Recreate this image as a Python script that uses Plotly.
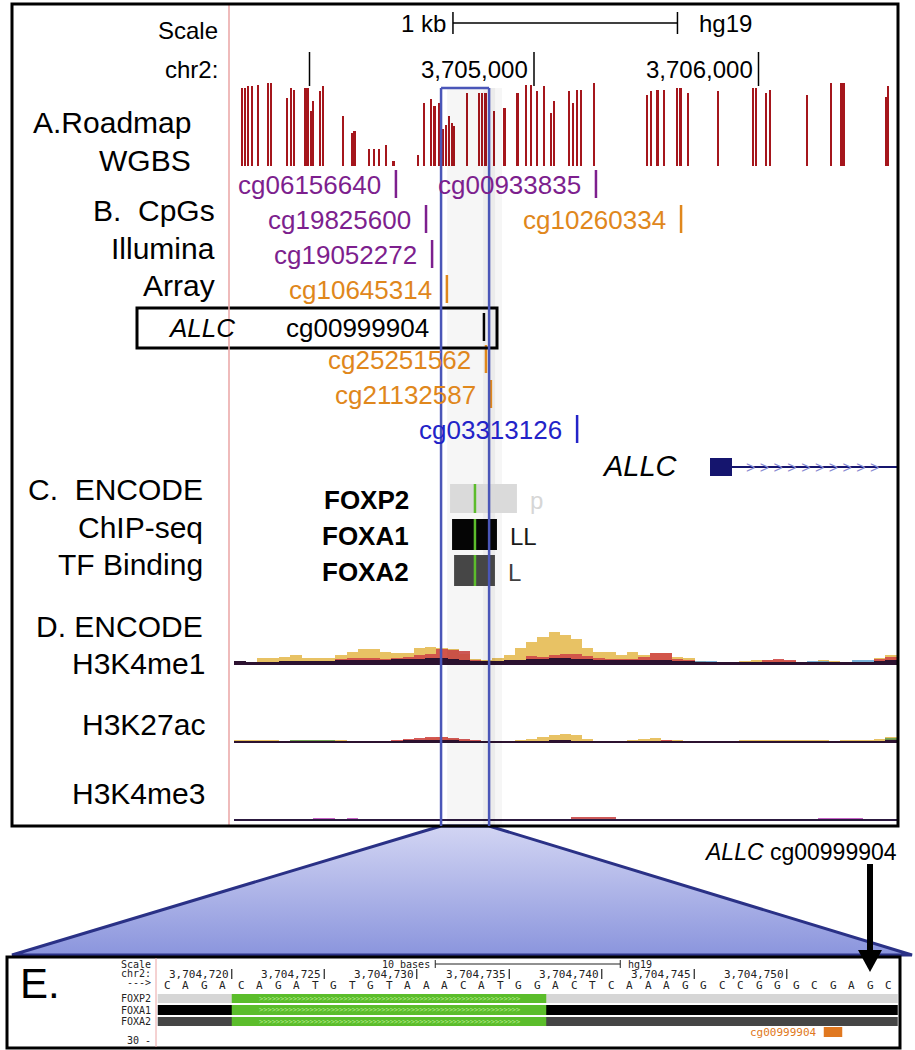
import plotly.graph_objects as go

# ======================= DATA =======================
# Panel A: Roadmap WGBS CpG sites (hg19 chr2) and methylation fraction
wgbs_pos = [3703698, 3703712, 3703727, 3703743, 3703770, 3703814, 3703828,
            3703901, 3703917, 3703930, 3703982, 3703994, 3704007, 3704017,
            3704046, 3704059, 3704148, 3704190, 3704200, 3704264, 3704287,
            3704310, 3704341, 3704374, 3704484, 3704509, 3704541, 3704557,
            3704576, 3704596, 3704609, 3704620, 3704634, 3704645, 3704702,
            3704754, 3704769, 3704784, 3704798, 3704821, 3704869, 3704927,
            3704966, 3704985, 3705014, 3705043, 3705077, 3705089, 3705155,
            3705174, 3705193, 3705209, 3705267, 3705502, 3705521, 3705550,
            3705579, 3705637, 3705649, 3705656, 3705685, 3705820, 3705975,
            3705988, 3706033, 3706052, 3706216, 3706322, 3706370, 3706381,
            3706567, 3706578]
wgbs_meth = [0.94, 0.94, 0.96, 0.96, 0.97, 1.0, 1.0,
             0.82, 0.94, 0.92, 0.94, 0.94, 0.66, 0.78,
             0.9, 0.96, 0.6, 0.4, 0.42, 0.21, 0.21,
             0.21, 0.25, 0.06, 0.13, 0.76, 0.81, 0.72,
             0.76, 0.44, 0.5, 0.6, 0.52, 0.48, 0.88,
             0.88, 0.88, 0.88, 0.88, 0.66, 0.7, 0.88,
             0.97, 0.98, 0.9, 0.96, 0.64, 0.78, 0.9,
             0.76, 0.92, 0.92, 1.0, 0.86, 0.9, 0.91,
             0.91, 0.94, 0.94, 0.94, 0.88, 0.9, 0.94,
             0.94, 0.88, 0.92, 0.85, 1.0, 1.0, 1.0,
             0.83, 0.96]

# Panel B: Illumina array CpG probes
cpg_names = ["cg06156640", "cg00933835", "cg19825600", "cg10260334", "cg19052272",
             "cg10645314", "cg00999904", "cg25251562", "cg21132587", "cg03313126"]
cpg_pos = [3704385, 3705276, 3704519, 3705655, 3704546,
           3704612, 3704777, 3704786, 3704808, 3705192]
cpg_class = ["purple", "purple", "purple", "orange", "purple",
             "orange", "target", "orange", "orange", "blue"]
cpg_row = [0, 0, 1, 1, 2, 3, 4, 5, 6, 7]

# Gene
gene_name = "ALLC"
gene_exon = [3705784, 3705882]
gene_end = 3706617

# Panel C: ENCODE TF ChIP-seq clusters
tf_names = ["FOXP2", "FOXA1", "FOXA2"]
tf_start = [3704626, 3704635, 3704644]
tf_end = [3704924, 3704835, 3704826]
tf_cells = ["p", "LL", "L"]
motif_center = 3704737

# Highlighted region
highlight = [3704586, 3704800]

# Chromosome ruler
ruler_ticks = [3704000, 3705000, 3706000]
ruler_labels = ["", "3,705,000", "3,706,000"]
scalebar = [3704639, 3705639]

# Panel D: ENCODE layered histone signal, 50 bp bins
BIN_START, BIN = 3703665, 50
h3k4me1_yellow = [4, 3, 7, 7, 8, 10, 7, 7, 7, 10, 13, 16, 16, 13, 12, 12, 17, 18, 17, 16,
                  11, 6, 5, 7, 10, 17, 23, 28, 33, 30, 26, 17, 13, 13, 10, 13, 10, 12, 12, 8,
                  7, 4, 3, 1, 3, 4, 5, 5, 5, 4, 3, 3, 5, 4, 3, 2, 3, 7, 10]
h3k4me1_red = [2, 2, 3, 3, 3, 4, 3, 3, 4, 6, 7, 7, 7, 6, 7, 8, 10, 11, 16, 15,
               14, 5, 4, 4, 4, 5, 9, 8, 10, 11, 11, 9, 7, 6, 6, 6, 8, 12, 12, 6,
               5, 3, 2, 1, 2, 3, 3, 5, 6, 5, 3, 2, 3, 2, 2, 2, 3, 6, 8]
h3k4me1_dark = [4, 3, 3, 3, 4, 4, 4, 4, 4, 5, 5, 5, 5, 5, 6, 6, 6, 7, 7, 6,
                5, 4, 4, 4, 5, 5, 6, 6, 7, 7, 6, 6, 5, 5, 5, 5, 5, 5, 5, 4,
                4, 3, 3, 3, 3, 3, 3, 3, 3, 3, 3, 3, 3, 3, 3, 3, 3, 4, 5]
h3k4me1_teal = [0, 0, 0, 0, 0, 0, 0, 0, 0, 0, 0, 0, 0, 0, 0, 0, 0, 0, 0, 0,
                0, 0, 0, 0, 0, 0, 0, 0, 0, 0, 0, 0, 0, 0, 0, 0, 0, 0, 0, 0,
                0, 4, 4, 0, 0, 0, 0, 0, 0, 0, 0, 4, 4, 3, 0, 5, 5, 0, 0]
h3k27ac_yellow = [3, 3, 3, 3, 2, 3, 3, 3, 3, 3, 2, 1, 1, 1, 1, 2, 3, 5, 6, 4,
                  3, 2, 1, 2, 1, 3, 4, 6, 8, 9, 8, 4, 2, 2, 2, 3, 4, 5, 3, 3,
                  1, 1, 1, 1, 1, 3, 3, 3, 3, 3, 3, 3, 3, 2, 3, 3, 3, 4, 6]
h3k27ac_red = [1, 1, 1, 1, 1, 1, 1, 1, 1, 1, 1, 1, 1, 2, 3, 4, 5, 6, 6, 5,
               4, 3, 1, 1, 1, 1, 1, 2, 2, 2, 2, 1, 1, 1, 1, 1, 2, 2, 3, 2,
               1, 1, 1, 1, 1, 1, 1, 1, 2, 2, 2, 2, 2, 1, 1, 1, 1, 2, 4]
h3k27ac_dark = [2, 2, 2, 2, 2, 2, 2, 2, 2, 2, 2, 2, 2, 2, 2, 3, 3, 3, 3, 3,
                2, 2, 2, 2, 2, 2, 2, 2, 3, 3, 2, 2, 2, 2, 2, 2, 2, 2, 2, 2,
                2, 2, 2, 2, 2, 2, 2, 2, 2, 2, 2, 2, 2, 2, 2, 2, 2, 2, 3]
h3k27ac_green = [0, 0, 0, 0, 0, 3, 3, 3, 3, 0, 0, 0, 0, 0, 0, 0, 0, 0, 0, 0,
                 0, 0, 0, 0, 0, 0, 0, 0, 0, 0, 0, 0, 0, 0, 0, 0, 0, 0, 0, 0,
                 0, 0, 0, 0, 0, 0, 0, 0, 0, 0, 0, 0, 0, 0, 0, 0, 0, 0, 5]
h3k4me3_dark = [2, 2, 2, 2, 2, 2, 2, 2, 2, 2, 2, 2, 2, 2, 2, 2, 2, 2, 2, 2,
                2, 2, 2, 2, 2, 2, 2, 2, 2, 2, 2, 2, 2, 2, 2, 2, 2, 2, 2, 2,
                2, 2, 2, 2, 2, 2, 2, 2, 2, 2, 2, 2, 2, 2, 2, 2, 2, 2, 2]
h3k4me3_magenta = [0, 0, 0, 0, 0, 0, 0, 3, 3, 0, 3, 0, 0, 0, 2, 0, 0, 0, 0, 0,
                   0, 0, 0, 0, 0, 0, 0, 0, 0, 0, 0, 0, 0, 0, 0, 0, 0, 0, 0, 0,
                   0, 0, 0, 0, 0, 0, 0, 0, 0, 0, 0, 0, 3, 3, 3, 3, 2, 0, 0]
h3k4me3_red = [0, 0, 0, 0, 0, 0, 0, 0, 0, 0, 0, 1, 0, 0, 0, 0, 0, 0, 1, 0,
               0, 0, 0, 0, 0, 0, 0, 0, 0, 0, 4, 4, 4, 4, 0, 0, 0, 0, 0, 0,
               0, 0, 0, 0, 0, 0, 0, 0, 0, 0, 0, 0, 0, 0, 0, 0, 0, 0, 0]

# Panel E: base-level zoom
seq = "CAGACAGATGTGTAAACATGGACTCAAAGGCCGGGCGAGC"
seq_start = 3704717
e_ticks = [3704720, 3704725, 3704730, 3704735, 3704740, 3704745, 3704750]
e_track_range = [3704717, 3704756]
e_motif = [3704721, 3704737]
e_probe = 3704753
e_scalebar = [3704732, 3704741]

# ======================= LAYOUT CONSTANTS =======================
W, H = 915, 1050
M_PX0, M_REF, M_SCALE = 534.0, 3705000, 0.2245   # main panel px/bp
E_PX0, E_SCALE = 167.0, 18.5                       # panel E px/bp

def gx(px):
    return M_REF + (px - M_PX0) / M_SCALE

def gpx(pos):
    return M_PX0 + (pos - M_REF) * M_SCALE

def ex(px):
    return seq_start + (px - E_PX0) / E_SCALE

ROW_Y = [185, 220, 255, 290, 328, 360, 395, 430]
CLASS_COL = {"purple": "#7d1f8e", "orange": "#e0871c", "blue": "#2323c8", "target": "#000000"}
LABEL_FONT = "Liberation Sans, Arial, sans-serif"
MONO = "DejaVu Sans Mono, Liberation Mono, monospace"
EF = 10

fig = go.Figure()
shapes = []
ann = []

def text(x, y, s, size, color="#000", anchor="right", xref="x3", font=LABEL_FONT, yanchor="middle"):
    ann.append(dict(x=x, y=y, xref=xref, yref="y", text=s, showarrow=False,
                    xanchor=anchor, yanchor=yanchor,
                    font=dict(size=size, color=color, family=font)))

def line(x0, y0, x1, y1, color, width, xref="x3", layer="above"):
    shapes.append(dict(type="line", x0=x0, y0=y0, x1=x1, y1=y1, xref=xref, yref="y",
                       line=dict(color=color, width=width), layer=layer))

def rect(x0, y0, x1, y1, fill, xref="x3", lc=None, lw=0, layer="above"):
    shapes.append(dict(type="rect", x0=x0, y0=y0, x1=x1, y1=y1, xref=xref, yref="y",
                       fillcolor=fill, line=dict(color=lc or fill, width=lw), layer=layer))

# ---- highlight shadow (below) ----
hx0, hx1 = gpx(highlight[0]), gpx(highlight[1])
rect(hx0 + 6, 88, hx1, 826, "rgba(0,0,0,0.035)", layer="below")
rect(hx1 - 6, 88, hx1, 826, "rgba(0,0,0,0.035)", layer="below")
rect(hx1, 88, hx1 + 6, 826, "rgba(0,0,0,0.08)", layer="below")
rect(hx1 + 6, 88, hx1 + 13, 826, "rgba(0,0,0,0.035)", layer="below")

# ---- main panel text: ruler ----
text(220, 30, "Scale", 24)
text(220, 69, "chr2:", 24)
text(gpx(scalebar[0]) - 5, 23, "1 kb", 24)
text(gpx(scalebar[1]) + 20, 23, "hg19", 24, anchor="left")
line(scalebar[0], 23, scalebar[1], 23, "#000", 1.5, xref="x")
line(scalebar[0], 12, scalebar[0], 34, "#000", 1.5, xref="x")
line(scalebar[1], 12, scalebar[1], 34, "#000", 1.5, xref="x")
for t, lab in zip(ruler_ticks, ruler_labels):
    line(t, 52, t, 86, "#000", 1.5, xref="x")
    if lab:
        text(gpx(t) - 4, 69, lab, 24)

# ---- left labels ----
text(193, 122, "A.Roadmap", 30)
text(193, 160, "WGBS", 30)
text(217, 210, "B.  CpGs", 30)
text(217, 248, "Illumina", 30)
text(217, 285, "Array", 30)
text(205, 489, "C.  ENCODE", 30)
text(205, 527, "ChIP-seq", 30)
text(205, 564, "TF Binding", 30)
text(205, 626, "D. ENCODE", 30)
text(207, 663, "H3K4me1", 30)
text(207, 724, "H3K27ac", 30)
text(207, 793, "H3K4me3", 30)

# ---- CpG probes ----
LABEL_GAP = 58
for name, pos, cls, r in zip(cpg_names, cpg_pos, cpg_class, cpg_row):
    y = ROW_Y[r]
    col = CLASS_COL[cls]
    line(pos, y - 15, pos, y + 13, col, 2.5, xref="x")
    if cls == "target":
        text(431, y, name, 26, col)
        text(237, y, "<i>ALLC</i>", 26, col)
    else:
        text(pos - LABEL_GAP, y, name, 26, col, xref="x")
rect(137, 308, 497, 348, "rgba(0,0,0,0)", lc="#000", lw=3)

# ---- gene ----
line(gene_exon[1], 467, gene_end, 467, "#15156e", 2, xref="x")
rect(gene_exon[0], 458, gene_exon[1], 476, "#15156e", xref="x")
ann.append(dict(x=(gene_exon[1] + gene_end) / 2, y=467, xref="x", yref="y",
                text="&gt; " * 10, showarrow=False, xanchor="center", yanchor="middle",
                font=dict(size=16, color="#8a8ad0", family=LABEL_FONT)))
text(gpx(gene_exon[0]) - 30, 466, "<i>" + gene_name + "</i>", 29)

# ---- TF clusters ----
TF_Y = [(484, 513), (519, 550), (555, 586)]
TF_COL = ["#dadada", "#050505", "#464646"]
TF_TXT = ["#d6d6d6", "#1a1a1a", "#404040"]
for name, s, e, cell, (y0, y1), c, tc in zip(tf_names, tf_start, tf_end, tf_cells, TF_Y, TF_COL, TF_TXT):
    rect(s, y0, e, y1, c, xref="x")
    line(motif_center, y0, motif_center, y1, "#5cbc2c", 2.5, xref="x")
    text(411, (y0 + y1) / 2 + 1, "<b>" + name + "</b>", 26)
    text(gpx(e) + 11, (y0 + y1) / 2 + 2, cell, 24, tc, anchor="left")

# ---- WGBS bars ----
fig.add_trace(go.Bar(x=wgbs_pos, y=wgbs_meth, width=10, xaxis="x", yaxis="y2",
                     marker=dict(color="#a5161c", line=dict(width=0)), hoverinfo="skip"))

# ---- histone layers ----
def layer(vals, color, yaxis, opacity=1.0):
    centers = [BIN_START + BIN * (i + 0.5) for i in range(len(vals))]
    fig.add_trace(go.Bar(x=centers, y=vals, width=BIN, xaxis="x", yaxis=yaxis,
                         opacity=opacity, hoverinfo="skip",
                         marker=dict(color=color, line=dict(width=0))))

layer(h3k4me1_yellow, "#e8c264", "y3")
layer(h3k4me1_red, "#d04a48", "y3", 0.9)
layer(h3k4me1_teal, "#5a9fd0", "y3", 0.8)
layer(h3k4me1_dark, "#2c1230", "y3")
layer(h3k27ac_yellow, "#e8c264", "y4")
layer(h3k27ac_red, "#d04a48", "y4", 0.9)
layer(h3k27ac_green, "#5aa050", "y4", 0.8)
layer(h3k27ac_dark, "#2c1230", "y4")
layer(h3k4me3_magenta, "#c050c0", "y5", 0.9)
layer(h3k4me3_red, "#c84848", "y5", 0.9)
layer(h3k4me3_dark, "#2c1a40", "y5")

# ---- main box, red line, highlight box ----
line(229, 4, 229, 825, "#eaa4a4", 1.5)
rect(12, 4, 898, 826, "rgba(0,0,0,0)", lc="#000", lw=3)
line(highlight[0], 88, highlight[0], 826, "#4a56b8", 2.5, xref="x")
line(highlight[1], 88, highlight[1], 826, "#4a56b8", 2.5, xref="x")
line(highlight[0], 88, highlight[1], 88, "#4a56b8", 2.5, xref="x")

# ---- zoom trapezoid ----
fig.add_trace(go.Scatter(x=[hx0, hx1, 912, 12, hx0], y=[826, 826, 955, 955, 826],
                         xaxis="x3", yaxis="y", mode="lines", fill="toself",
                         fillgradient=dict(type="vertical", start=826, stop=955,
                                           colorscale=[[0, "#d2d5f3"], [1, "#8b95dd"]]),
                         line=dict(color="#2a3186", width=3), hoverinfo="skip"))

# ---- arrow to target CpG ----
text(800, 852, "<i>ALLC</i> cg00999904", 23, anchor="center")
arrow_x = E_PX0 + (e_probe + 2 - seq_start) * E_SCALE
line(arrow_x, 864, arrow_x, 955, "#000", 6)
shapes.append(dict(type="path", xref="x3", yref="y", fillcolor="#000", line=dict(width=0),
                   path=f"M {arrow_x-12},950 L {arrow_x+12},950 L {arrow_x},972 Z", layer="above"))

# ---- Panel E ----
rect(7, 957, 900, 1048, "rgba(0,0,0,0)", lc="#000", lw=3)
line(156, 958, 156, 1047, "#eaa4a4", 1)
text(18, 983, "E.", 42, anchor="left")
rows_e = [("Scale", 964), ("chr2:", 973), ("---&gt;", 982), ("FOXP2", 998),
          ("FOXA1", 1010), ("FOXA2", 1021), ("30 -", 1040)]
for s, y in rows_e:
    text(153, y, s, EF, "#222", font=MONO)
# scale bar
line(e_scalebar[0] - 0.5, 964, e_scalebar[1] + 0.5, 964, "#222", 1, xref="x2")
line(e_scalebar[0] - 0.5, 960, e_scalebar[0] - 0.5, 968, "#222", 1, xref="x2")
line(e_scalebar[1] + 0.5, 960, e_scalebar[1] + 0.5, 968, "#222", 1, xref="x2")
ann.append(dict(x=e_scalebar[0] - 0.7, y=964, xref="x2", yref="y", text="10 bases", showarrow=False,
                xanchor="right", yanchor="middle", font=dict(size=EF, color="#222", family=MONO)))
ann.append(dict(x=e_scalebar[1] + 0.8, y=964, xref="x2", yref="y", text="hg19", showarrow=False,
                xanchor="left", yanchor="middle", font=dict(size=EF, color="#222", family=MONO)))
# position ticks
for t in e_ticks:
    line(t + 0.5, 969, t + 0.5, 979, "#222", 1.2, xref="x2")
    ann.append(dict(x=t + 0.45, y=974, xref="x2", yref="y", text=f"{t:,}", showarrow=False,
                    xanchor="right", yanchor="middle", font=dict(size=EF + 1, color="#222", family=MONO)))
# bases
for i, b in enumerate(seq):
    ann.append(dict(x=seq_start + i, y=985, xref="x2", yref="y", text=b, showarrow=False,
                    xanchor="center", yanchor="middle", font=dict(size=EF + 1, color="#222", family=MONO)))
# TF tracks
E_ROWS = [(994, 1003, "#d6d6d6"), (1005, 1015, "#000000"), (1017, 1026, "#454545")]
for y0, y1, c in E_ROWS:
    rect(e_track_range[0] - 0.5, y0, e_track_range[1] + 0.5, y1, c, xref="x2")
    rect(e_motif[0] - 0.5, y0, e_motif[1] + 0.5, y1, "#5bbd2b", xref="x2")
    ann.append(dict(x=(e_motif[0] + e_motif[1]) / 2, y=(y0 + y1) / 2, xref="x2", yref="y",
                    text="&gt;" * 62, showarrow=False, xanchor="center", yanchor="middle",
                    font=dict(size=7, color="#b6ec8c", family=MONO)))
# probe in panel E
rect(e_probe - 0.5, 1027, e_probe + 0.5, 1037, "#e07820", xref="x2")
ann.append(dict(x=e_probe - 0.75, y=1032, xref="x2", yref="y", text="cg00999904", showarrow=False,
                xanchor="right", yanchor="middle", font=dict(size=EF + 1, color="#e07820", family=MONO)))

# ======================= AXES =======================
def ydom(top_px, bottom_px):
    return [(H - bottom_px) / H, (H - top_px) / H]

fig.update_layout(
    width=W, height=H, margin=dict(l=0, r=0, t=0, b=0),
    paper_bgcolor="white", plot_bgcolor="rgba(0,0,0,0)",
    showlegend=False, barmode="overlay", bargap=0,
    xaxis=dict(range=[gx(0), gx(W)], domain=[0, 1], visible=False, fixedrange=True, anchor="y"),
    xaxis2=dict(range=[ex(0), ex(W)], overlaying="x", visible=False, fixedrange=True, anchor="y"),
    xaxis3=dict(range=[0, W], overlaying="x", visible=False, fixedrange=True, anchor="y"),
    yaxis=dict(range=[H, 0], domain=[0, 1], visible=False, fixedrange=True),
    yaxis2=dict(range=[0, 1], domain=ydom(83, 166), visible=False, anchor="x", fixedrange=True),
    yaxis3=dict(range=[0, 40], domain=ydom(625, 665), visible=False, anchor="x", fixedrange=True),
    yaxis4=dict(range=[0, 30], domain=ydom(713, 743), visible=False, anchor="x", fixedrange=True),
    yaxis5=dict(range=[0, 20], domain=ydom(801, 821), visible=False, anchor="x", fixedrange=True),
    shapes=shapes, annotations=ann,
)

fig.write_html("out.html", config={"displayModeBar": False},
               post_script="document.body.style.margin='0px';document.body.style.overflow='hidden';")
